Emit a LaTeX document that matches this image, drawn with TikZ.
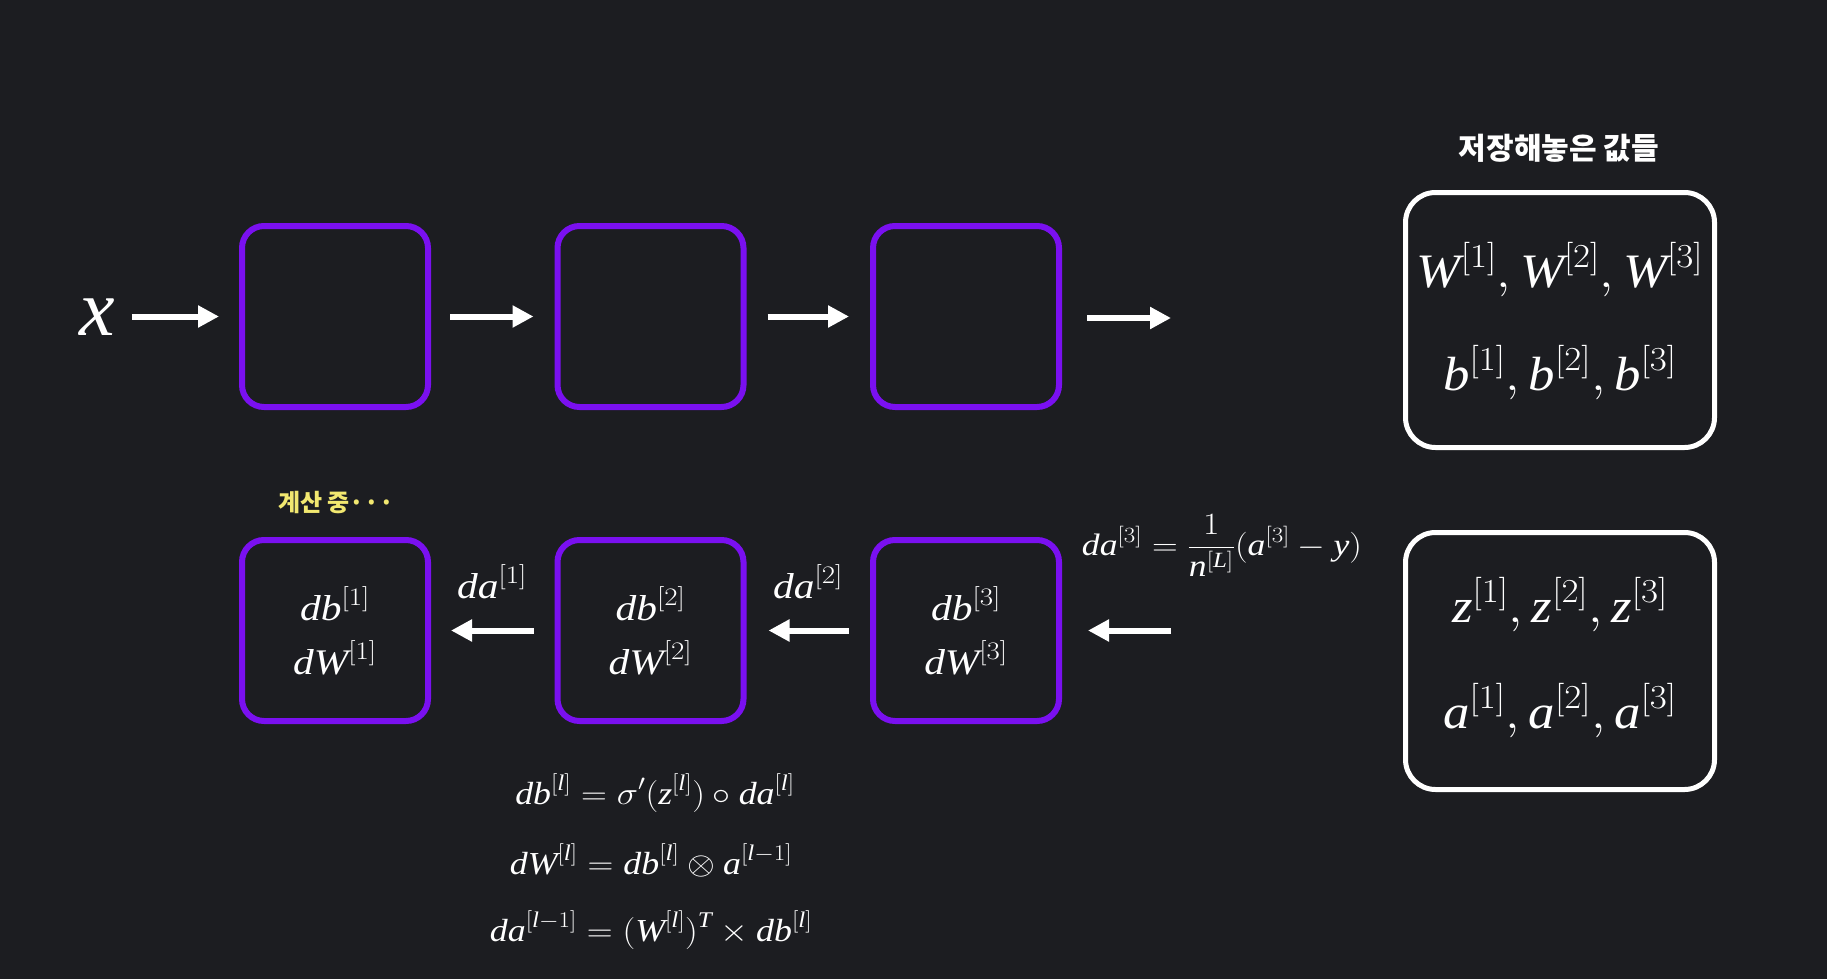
\RequirePackage{fix-cm}
\documentclass[tikz,border=0pt]{standalone}
\usepackage{graphicx}
\usepackage{fontspec}
\setmainfont{Liberation Serif}
\usetikzlibrary{arrows.meta}
\newfontfamily\krfont{Noto Sans CJK KR}
\DeclareSymbolFont{tmit}{TU}{\rmdefault}{m}{it}
\newcommand\tmlet[1]{\DeclareMathSymbol{#1}{\mathalpha}{tmit}{`#1}}
\tmlet{a}\tmlet{b}\tmlet{d}\tmlet{l}\tmlet{n}\tmlet{x}\tmlet{y}\tmlet{z}\tmlet{W}\tmlet{L}\tmlet{T}
\newcommand\wm[2]{\scalebox{#1}[1]{$\displaystyle #2$}}
\definecolor{bgc}{RGB}{28,29,33}
\definecolor{purp}{RGB}{122,16,240}
\definecolor{yel}{RGB}{242,232,112}
\tikzset{
  layer/.style={draw=purp, line width=6pt, rounded corners=22pt, minimum width=186pt, minimum height=181pt, inner sep=0pt},
  store/.style={draw=white, line width=5pt, rounded corners=30pt, minimum width=309pt, inner sep=0pt},
  arr/.style={draw=white, line width=6pt, -{Triangle[length=21pt,width=21pt]}},
  boxtxt/.style={text=white, anchor=base, inner sep=0pt, font=\fontsize{36}{40}\selectfont},
  bigtxt/.style={text=white, anchor=base, inner sep=0pt, font=\fontsize{48}{55}\selectfont},
  eqtxt/.style={text=white, anchor=base, inner sep=0pt, font=\fontsize{32}{36}\selectfont},
}
\begin{document}
\begin{tikzpicture}[x=1pt,y=-1pt]
\fill[bgc] (0,0) rectangle (1827,979);
\useasboundingbox (0,0) rectangle (1827,979);

% forward row
\node[text=white, anchor=base, inner sep=0pt, font=\fontsize{80}{90}\selectfont] (x) at (97,335) {$x$};
\node[layer] (f1) at (335,316.5) {};
\node[layer] (f2) at (650.5,316.5) {};
\node[layer] (f3) at (966,316.5) {};
\coordinate (fend) at (1171,318);
\draw[arr, shorten <=17pt, shorten >=20pt] (x.east |- f1) -- (f1);
\draw[arr, shorten <=19pt, shorten >=21pt] (f1) -- (f2);
\draw[arr, shorten <=21pt, shorten >=21pt] (f2) -- (f3);
\draw[arr, shorten <=25pt] (f3.east |- fend) -- (fend);

% backward row
\node[layer] (g1) at (335,630.5) {};
\node[layer] (g2) at (650.5,630.5) {};
\node[layer] (g3) at (966,630.5) {};
\coordinate (gstart) at (1171,630.5);
\draw[arr, shorten <=21pt, shorten >=20pt] (g2) -- (g1);
\draw[arr, shorten <=21pt, shorten >=22pt] (g3) -- (g2);
\draw[arr, shorten >=26pt] (gstart) -- (g3);

\node[boxtxt] (g1a) at (335,620) {\wm{1.15}{db^{[1]}}};
\node[boxtxt] (g1b) at (335,674) {\wm{1.15}{dW^{[1]}}};
\node[boxtxt] (g2a) at (650.5,620) {\wm{1.15}{db^{[2]}}};
\node[boxtxt] (g2b) at (650.5,674) {\wm{1.15}{dW^{[2]}}};
\node[boxtxt] (g3a) at (966,620) {\wm{1.15}{db^{[3]}}};
\node[boxtxt] (g3b) at (966,674) {\wm{1.15}{dW^{[3]}}};

\node[boxtxt] (l1) at (492,598) {\wm{1.15}{da^{[1]}}};
\node[boxtxt] (l2) at (808,598) {\wm{1.15}{da^{[2]}}};
\node[text=white, anchor=base, inner sep=0pt, font=\fontsize{31}{36}\selectfont] (l3) at (1222,555) {\wm{1.15}{da^{[3]}=\frac{1}{n^{[L]}}(a^{[3]}-y)}};

\node[text=yel, inner sep=0pt, font=\krfont\bfseries\fontsize{24}{28}\selectfont] (calc) at (336,503) {계산 중···};

% stored values
\node[text=white, inner sep=0pt, font=\krfont\bfseries\fontsize{30}{36}\selectfont] (hdr) at (1559,148) {저장해놓은 값들};
\node[store, minimum height=255pt] (s1) at (1560,320) {};
\node[store, minimum height=257pt] (s2) at (1560,661) {};
\node[bigtxt] (s1a) at (1560,287) {\wm{1.1}{W^{[1]}, W^{[2]}, W^{[3]}}};
\node[bigtxt] (s1b) at (1560,390) {\wm{1.1}{b^{[1]}, b^{[2]}, b^{[3]}}};
\node[bigtxt] (s2a) at (1560,622) {\wm{1.1}{z^{[1]}, z^{[2]}, z^{[3]}}};
\node[bigtxt] (s2b) at (1560,728) {\wm{1.1}{a^{[1]}, a^{[2]}, a^{[3]}}};

% equations
\node[eqtxt] (e1) at (655,804) {\wm{1.12}{db^{[l]}=\sigma'(z^{[l]})\circ da^{[l]}}};
\node[eqtxt] (e2) at (651,874) {\wm{1.12}{dW^{[l]}=db^{[l]}\otimes a^{[l-1]}}};
\node[eqtxt] (e3) at (651,941) {\wm{1.12}{da^{[l-1]}=(W^{[l]})^{T}\times db^{[l]}}};
\end{tikzpicture}
\end{document}
